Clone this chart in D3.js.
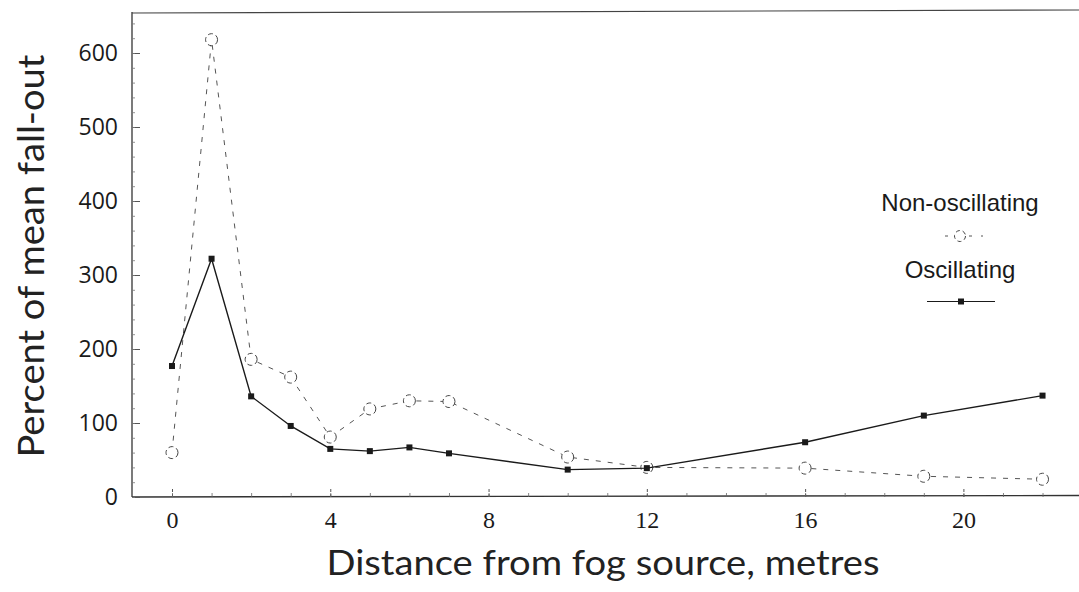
<!DOCTYPE html>
<html>
<head>
<meta charset="utf-8">
<script src="https://cdn.jsdelivr.net/npm/d3@7"></script>
<style>
  html, body { margin: 0; padding: 0; background: #fff; }
  svg { display: block; }
</style>
</head>
<body>
<svg id="chart" width="1079" height="592"></svg>
<script>
// ---- data ----
const distance = [0, 1, 2, 3, 4, 5, 6, 7, 10, 12, 16, 19, 22];
const oscillating = [177, 322, 136, 96, 65, 62, 67, 59, 37, 39, 74, 110, 137];
const nonOscillating = [60, 618, 186, 162, 81, 119, 130, 129, 54, 40, 39, 28, 24];
const xTicks = [0, 4, 8, 12, 16, 20];
const yTicks = [0, 100, 200, 300, 400, 500, 600];
const seriesNames = ["Non-oscillating", "Oscillating"];
const xTitle = "Distance from fog source, metres";
const yTitle = "Percent of mean fall-out";

// ---- layout ----
const svg = d3.select("#chart");
const plot = { left: 132, right: 1079, top: 12, bottom: 497 };
const x = d3.scaleLinear().domain([0, 20]).range([172, 963.4]);
const y = d3.scaleLinear().domain([0, 600]).range([497, 53]);

const ink = "#1a1a1a";

// frame: left axis line, top border, bottom axis line
svg.append("line").attr("x1", plot.left).attr("x2", plot.left)
  .attr("y1", plot.top).attr("y2", plot.bottom)
  .attr("stroke", "#333").attr("stroke-width", 1.3);
svg.append("line").attr("x1", plot.left).attr("x2", plot.right)
  .attr("y1", plot.top + 1).attr("y2", plot.top - 2)
  .attr("stroke", "#444").attr("stroke-width", 1.2);
svg.append("line").attr("x1", plot.left).attr("x2", plot.right)
  .attr("y1", plot.bottom).attr("y2", plot.bottom - 1.5)
  .attr("stroke", "#333").attr("stroke-width", 1.4);

// x axis (major ticks inward + labels)
const xAxis = d3.axisBottom(x).tickValues(xTicks).tickSizeInner(-9).tickSizeOuter(0).tickPadding(14);
const gx = svg.append("g").attr("transform", `translate(0,${plot.bottom})`).call(xAxis);
gx.select(".domain").remove();
gx.selectAll("line").attr("stroke", "#555").attr("stroke-width", 1).attr("stroke-dasharray", "3,2");
gx.selectAll("text").attr("font-family", "'Liberation Serif', serif").attr("font-size", 24).attr("fill", ink);

// x minor ticks
const xMinor = d3.axisBottom(x).tickValues(d3.range(0, 23)).tickSizeInner(-4).tickSizeOuter(0).tickFormat("");
const gxm = svg.append("g").attr("transform", `translate(0,${plot.bottom})`).call(xMinor);
gxm.select(".domain").remove();
gxm.selectAll("line").attr("stroke", "#666").attr("stroke-width", 0.8);

// y axis (major ticks inward + labels)
const yAxis = d3.axisLeft(y).tickValues(yTicks).tickSizeInner(-8).tickSizeOuter(0).tickPadding(14);
const gy = svg.append("g").attr("transform", `translate(${plot.left},0)`).call(yAxis);
gy.select(".domain").remove();
gy.selectAll("line").attr("stroke", "#555").attr("stroke-width", 1);
gy.selectAll("text").attr("font-family", "'Open Sans', sans-serif").attr("font-size", 23).attr("fill", ink);

// y minor ticks
const yMinor = d3.axisLeft(y).tickValues(d3.range(0, 641, 20)).tickSizeInner(-3).tickSizeOuter(0).tickFormat("");
const gym = svg.append("g").attr("transform", `translate(${plot.left},0)`).call(yMinor);
gym.select(".domain").remove();
gym.selectAll("line").attr("stroke", "#777").attr("stroke-width", 0.8);

// axis titles
svg.append("text").text(xTitle)
  .attr("x", 603).attr("y", 575).attr("text-anchor", "middle")
  .attr("font-family", "Lato, 'Open Sans', sans-serif").attr("font-size", 35)
  .attr("textLength", 553).attr("lengthAdjust", "spacingAndGlyphs")
  .attr("fill", "#222");
svg.append("text").text(yTitle)
  .attr("transform", "translate(44,256) rotate(-90)")
  .attr("text-anchor", "middle")
  .attr("font-family", "Lato, 'Open Sans', sans-serif").attr("font-size", 37)
  .attr("textLength", 403).attr("lengthAdjust", "spacingAndGlyphs")
  .attr("fill", "#222");

// ---- series ----
const nonData = distance.map((d, i) => ({ d, v: nonOscillating[i] }));
const oscData = distance.map((d, i) => ({ d, v: oscillating[i] }));
const line = d3.line().x(p => x(p.d)).y(p => y(p.v));

// non-oscillating: dashed grey line, dashed open circles
svg.append("path").datum(nonData).attr("d", line)
  .attr("fill", "none").attr("stroke", "#555").attr("stroke-width", 1)
  .attr("stroke-dasharray", "5,7");
svg.selectAll("circle.non").data(nonData).enter().append("circle")
  .attr("class", "non")
  .attr("cx", p => x(p.d)).attr("cy", p => y(p.v)).attr("r", 6)
  .attr("fill", "#fff").attr("stroke", "#444").attr("stroke-width", 1)
  .attr("stroke-dasharray", "5,3");

// oscillating: solid black line with filled squares
svg.append("path").datum(oscData).attr("d", line)
  .attr("fill", "none").attr("stroke", ink).attr("stroke-width", 1.4);
svg.selectAll("rect.osc").data(oscData).enter().append("rect")
  .attr("class", "osc")
  .attr("x", p => x(p.d) - 3).attr("y", p => y(p.v) - 3)
  .attr("width", 6).attr("height", 6)
  .attr("fill", ink);

// ---- legend ----
const lg = svg.append("g").attr("font-family", "'Liberation Sans', Arial, sans-serif").attr("font-size", 24).attr("fill", ink);
lg.append("text").text(seriesNames[0]).attr("x", 960).attr("y", 211).attr("text-anchor", "middle");
lg.append("line").attr("x1", 945).attr("x2", 983).attr("y1", 236).attr("y2", 236)
  .attr("stroke", "#555").attr("stroke-width", 1).attr("stroke-dasharray", "3,9");
lg.append("circle").attr("cx", 960).attr("cy", 236).attr("r", 5.5)
  .attr("fill", "#fff").attr("stroke", "#444").attr("stroke-dasharray", "4,3");
lg.append("text").text(seriesNames[1]).attr("x", 960).attr("y", 278).attr("text-anchor", "middle");
lg.append("line").attr("x1", 927).attr("x2", 995).attr("y1", 301.5).attr("y2", 301.5)
  .attr("stroke", ink).attr("stroke-width", 1.2);
lg.append("rect").attr("x", 958).attr("y", 298.5).attr("width", 6).attr("height", 6).attr("fill", ink);
</script>
</body>
</html>
